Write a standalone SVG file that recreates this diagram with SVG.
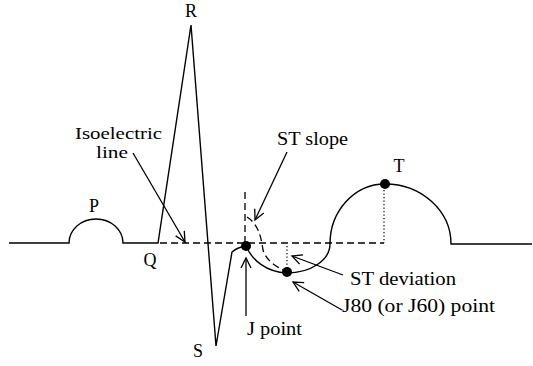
<svg xmlns="http://www.w3.org/2000/svg" width="533" height="366" viewBox="0 0 533 366">
<style>
.w{fill:none;stroke:#000;stroke-width:1.4}
.d{fill:none;stroke:#000;stroke-width:1.3;stroke-dasharray:7,4}
.o{fill:none;stroke:#000;stroke-width:1.2;stroke-dasharray:1.3,2.2}
.a{fill:none;stroke:#000;stroke-width:1.3;marker-end:url(#ah)}
.m{text-anchor:middle}
</style>
<defs>
<marker id="ah" markerUnits="userSpaceOnUse" markerWidth="14" markerHeight="14" refX="0" refY="0" viewBox="-12 -7 14 14" orient="auto">
<path d="M-10,-5 L0,0 L-10,5" fill="none" stroke="#000" stroke-width="1.3"/>
</marker>
</defs>
<rect width="533" height="366" fill="#fff"/>
<g id="connectors">
<path class="d" d="M160,243 H384"/>
<path class="d" d="M245,192 V244"/>
<path class="d" d="M247,217 C258,224 261,236 263,250 C266,260 275,266 285,271"/>
<path class="o" d="M384,190 V243"/>
<path class="o" d="M287,246 V268"/>
<path class="a" d="M133,153 L185,242"/>
<path class="a" d="M287,152 L255,220"/>
<path class="a" d="M343,275 L292,256"/>
<path class="a" d="M342,310 L293,282"/>
<path class="a" d="M246,316 L246,258"/>
</g>
<g id="ecg">
<path class="w" d="M9,243 L69,243 A27,24 0 0 1 123,243 L158,243 L191,25 L216,346 L232,252 Q238,247 246,246"/>
<path class="w" d="M246,246 C252,260 266,272 287,273 A43,29 0 0 0 330,244 A55,60 0 0 1 385,184 A66,60 0 0 1 451,244 L532,244"/>
</g>
<g id="j-point-dot"><circle cx="246" cy="246" r="5"/></g>
<g id="j80-dot"><circle cx="287" cy="272" r="5"/></g>
<g id="t-dot"><circle cx="385" cy="184" r="5"/></g>
<g id="labels" font-family="Liberation Serif, DejaVu Serif, serif" font-size="18" fill="#000">
<text class="m" x="191" y="17">R</text>
<text class="m" x="94" y="212">P</text>
<text class="m" x="150" y="266">Q</text>
<text class="m" x="198" y="357">S</text>
<text class="m" x="399" y="172">T</text>
<text x="75" y="139" font-size="17" textLength="87" lengthAdjust="spacingAndGlyphs">Isoelectric</text>
<text x="96" y="158" font-size="17" textLength="32" lengthAdjust="spacingAndGlyphs">line</text>
<text x="277" y="145" textLength="71" lengthAdjust="spacingAndGlyphs">ST slope</text>
<text x="350" y="285" textLength="106" lengthAdjust="spacingAndGlyphs">ST deviation</text>
<text x="342" y="312" textLength="153" lengthAdjust="spacingAndGlyphs">J80 (or J60) point</text>
<text x="247" y="335" textLength="55" lengthAdjust="spacingAndGlyphs">J point</text>
</g>
</svg>
